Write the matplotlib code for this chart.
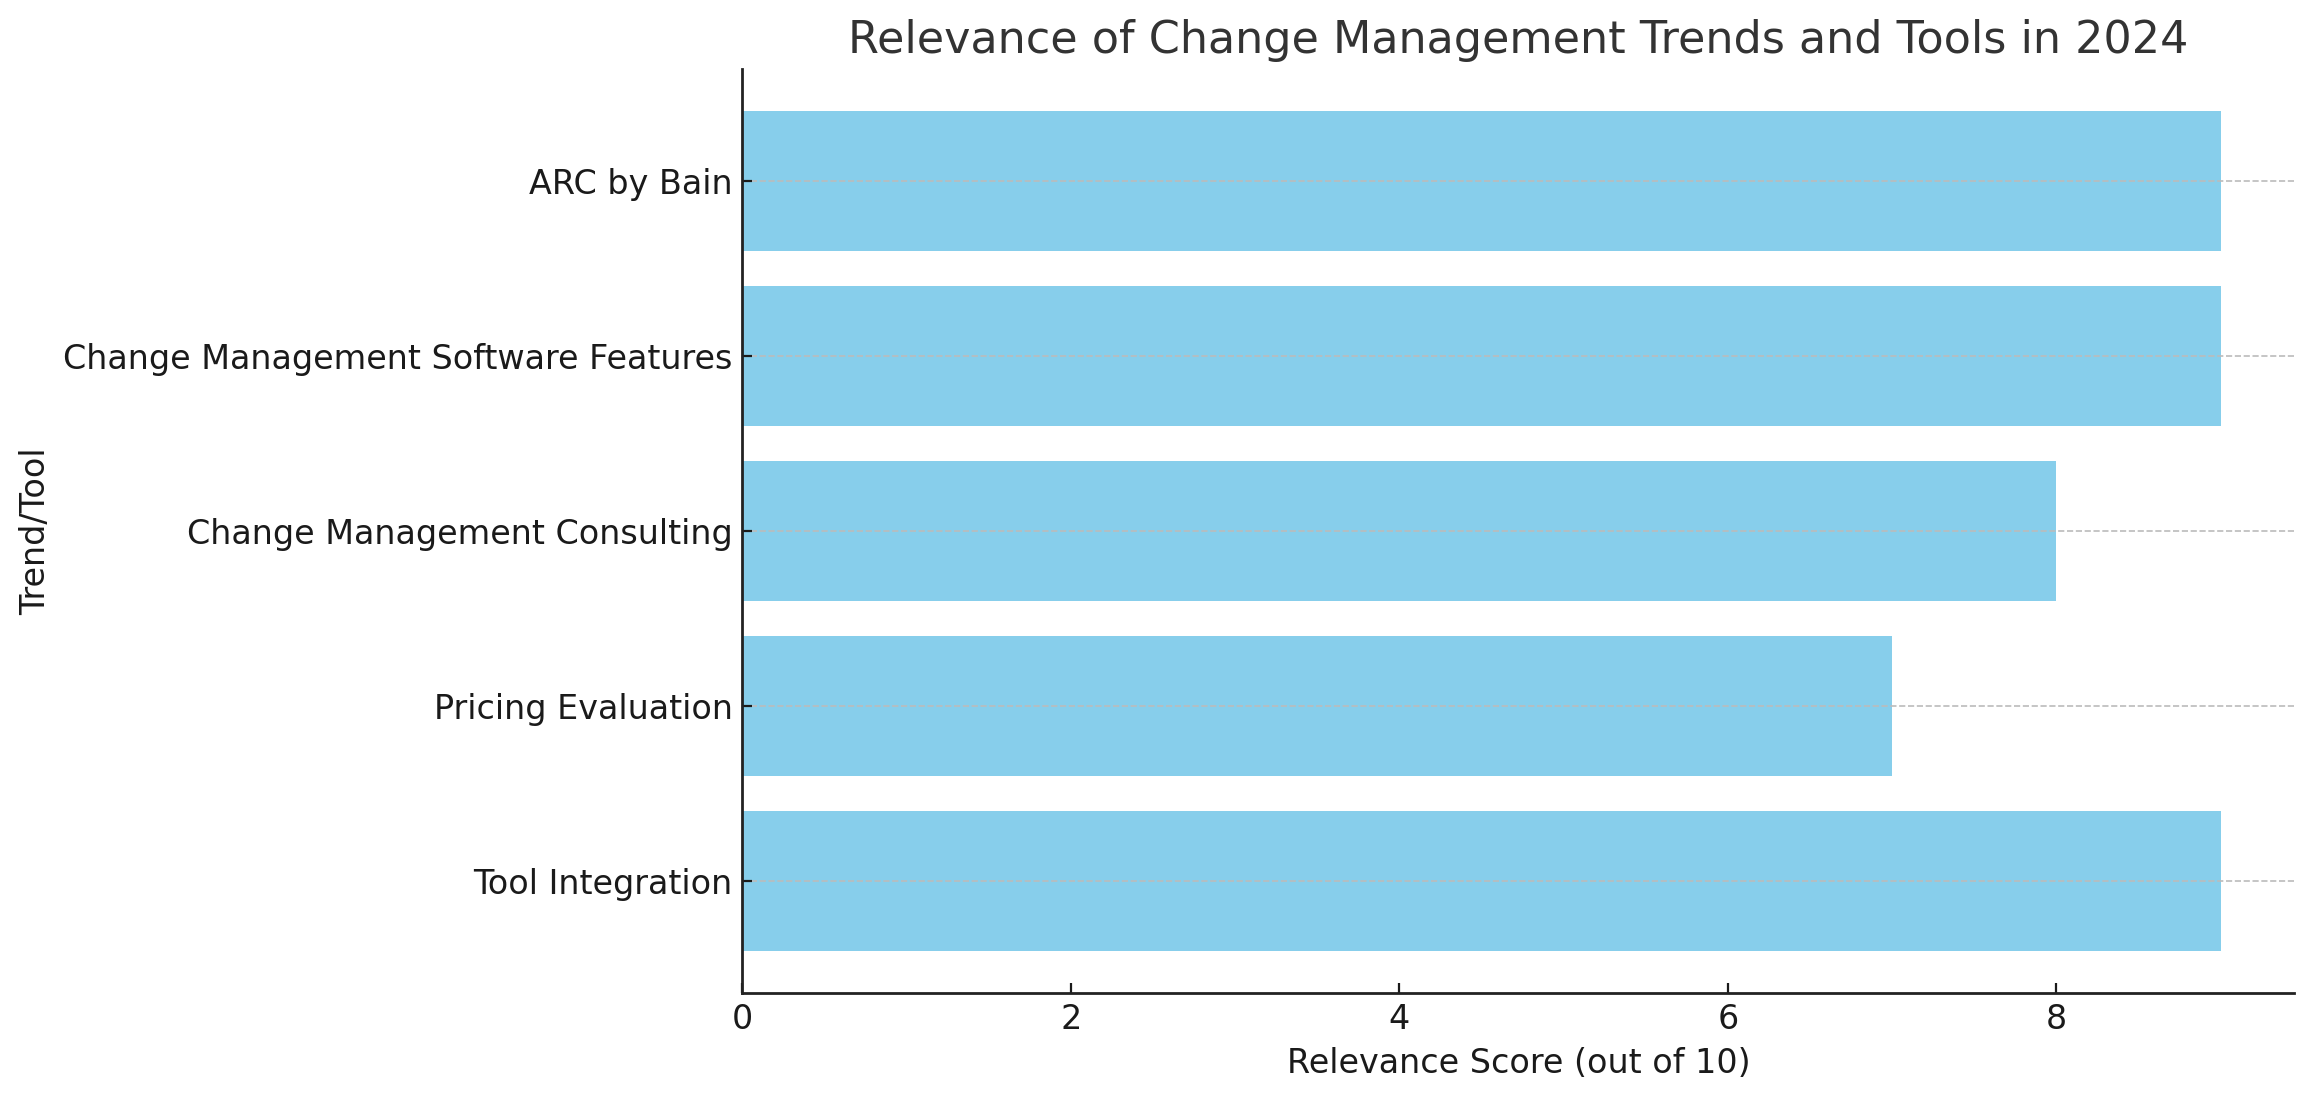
import matplotlib.pyplot as plt

# Chart data
categories = ["Tool Integration", "Pricing Evaluation", "Change Management Consulting",
              "Change Management Software Features", "ARC by Bain"]
scores = [9, 7, 8, 9, 9]

fig = plt.figure(figsize=(2313 / 200, 1101 / 200), dpi=200)
ax = fig.add_axes([0.321, 0.098, 0.671, 0.839])

ax.barh(categories, scores, color="skyblue")

ax.set_title("Relevance of Change Management Trends and Tools in 2024", fontsize=16, color="#333333")
ax.set_xlabel("Relevance Score (out of 10)", fontsize=12, color="#1a1a1a")
ax.set_ylabel("Trend/Tool", fontsize=12, color="#1a1a1a")

ax.tick_params(axis="both", direction="in", labelsize=12, colors="#1a1a1a")
ax.grid(axis="y", linestyle="--", color="#bbbbbb", linewidth=0.6)

for side in ["top", "right"]:
    ax.spines[side].set_visible(False)
for side in ["left", "bottom"]:
    ax.spines[side].set_color("#222222")
    ax.spines[side].set_linewidth(1.0)

fig.savefig("out.png", dpi=200)
